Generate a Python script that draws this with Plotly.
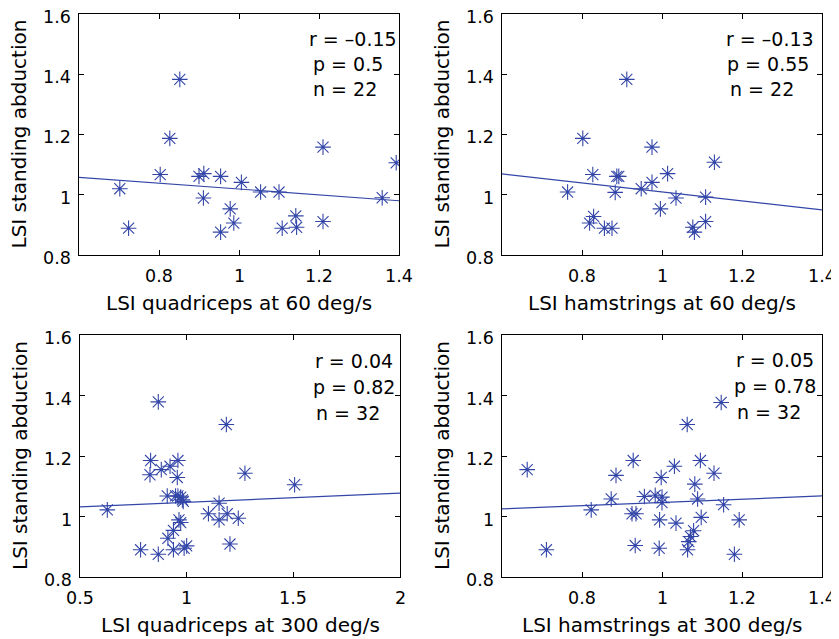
import plotly.graph_objects as go

# ---------------- data ----------------
q60_x = [0.702, 0.724, 0.852, 0.827, 0.803, 0.900, 0.912, 0.954, 0.911, 1.006, 0.954,
         0.978, 0.987, 1.054, 1.100, 1.108, 1.142, 1.144, 1.210, 1.210, 1.358, 1.393]
q60_y = [1.020, 0.889, 1.383, 1.187, 1.067, 1.061, 1.070, 1.061, 0.989, 1.041, 0.876,
         0.953, 0.906, 1.009, 1.009, 0.889, 0.930, 0.892, 1.158, 0.911, 0.990, 1.106]

h60_x = [0.764, 0.802, 0.827, 0.829, 0.819, 0.856, 0.875, 0.883, 0.887, 0.892, 0.912,
         0.948, 0.975, 0.975, 0.996, 1.014, 1.035, 1.077, 1.081, 1.109, 1.109, 1.131]
h60_y = [1.009, 1.187, 1.067, 0.928, 0.906, 0.889, 0.889, 1.008, 1.061, 1.061, 1.383,
         1.020, 1.041, 1.158, 0.953, 1.070, 0.989, 0.892, 0.876, 0.911, 0.992, 1.108]

q300_x = [0.628, 0.784, 0.867, 0.867, 0.831, 0.828, 0.881, 0.922, 0.959, 0.956, 0.909,
          0.948, 0.959, 0.972, 0.980, 0.964, 0.972, 0.938, 0.912, 0.938, 0.988, 1.000,
          1.152, 1.102, 1.152, 1.190, 1.242, 1.203, 1.186, 1.273, 1.506, 0.984]
q300_y = [1.022, 0.890, 0.875, 1.379, 1.185, 1.138, 1.155, 1.166, 1.185, 1.129, 1.068,
          1.068, 1.068, 1.064, 1.055, 0.989, 0.980, 0.954, 0.928, 0.890, 0.895, 0.903,
          1.044, 1.009, 0.989, 1.009, 0.994, 0.909, 1.304, 1.143, 1.105, 1.050]

h300_x = [0.663, 0.711, 0.823, 0.873, 0.885, 0.928, 0.925, 0.935, 0.933, 0.956, 0.983,
          1.000, 1.000, 0.998, 0.994, 0.993, 1.031, 1.035, 1.063, 1.064, 1.067, 1.071,
          1.079, 1.082, 1.089, 1.096, 1.098, 1.130, 1.148, 1.154, 1.193, 1.181]
h300_y = [1.155, 0.890, 1.022, 1.058, 1.136, 1.185, 1.009, 1.009, 0.904, 1.066, 1.070,
          1.064, 1.046, 1.129, 0.989, 0.895, 1.166, 0.978, 1.304, 0.890, 0.917, 0.934,
          0.953, 1.107, 1.058, 1.185, 0.997, 1.143, 1.377, 1.039, 0.989, 0.875]

# regression lines (end points)
q60_fit_x, q60_fit_y = [0.6, 1.4], [1.058, 0.980]
h60_fit_x, h60_fit_y = [0.6, 1.4], [1.069, 0.950]
q300_fit_x, q300_fit_y = [0.5, 2.0], [1.032, 1.077]
h300_fit_x, h300_fit_y = [0.6, 1.4], [1.025, 1.068]

q60_stats = ["r = \u20130.15", "p = 0.5", "n = 22"]
h60_stats = ["r = \u20130.13", "p = 0.55", "n = 22"]
q300_stats = ["r = 0.04", "p = 0.82", "n = 32"]
h300_stats = ["r = 0.05", "p = 0.78", "n = 32"]

y_ticks = [0.8, 1.0, 1.2, 1.4, 1.6]
y_tick_text = ["0.8", "1", "1.2", "1.4", "1.6"]
x_ticks_a = [0.8, 1.0, 1.2, 1.4]
x_tick_text_a = ["0.8", "1", "1.2", "1.4"]
x_ticks_b = [0.5, 1.0, 1.5, 2.0]
x_tick_text_b = ["0.5", "1", "1.5", "2"]

x_labels = ["LSI quadriceps at 60 deg/s", "LSI hamstrings at 60 deg/s",
            "LSI quadriceps at 300 deg/s", "LSI hamstrings at 300 deg/s"]
y_label = "LSI standing abduction"

# ---------------- layout geometry (pixels in the 839x639 window) ----------------
OFF = 8                      # default body margin of the html page
W, H = 839 - OFF, 639 - OFF  # figure size so that it fits in the window
FONT = "DejaVu Sans, Arial, sans-serif"
BLUE = "#3346a8"
TICK_SIZE = 17.5
TITLE_SIZE = 20
STAT_SIZE = 19

panels = [
    dict(x=q60_x, y=q60_y, fx=q60_fit_x, fy=q60_fit_y, stats=q60_stats,
         xr=[0.6, 1.4], xt=x_ticks_a, xtt=x_tick_text_a,
         px=(79, 399), py=(14, 255), sx=[308, 312, 312], sy=[39, 64, 89]),
    dict(x=h60_x, y=h60_y, fx=h60_fit_x, fy=h60_fit_y, stats=h60_stats,
         xr=[0.6, 1.4], xt=x_ticks_a, xtt=x_tick_text_a,
         px=(502, 822), py=(14, 255), sx=[725, 726, 729], sy=[39, 64, 89]),
    dict(x=q300_x, y=q300_y, fx=q300_fit_x, fy=q300_fit_y, stats=q300_stats,
         xr=[0.5, 2.0], xt=x_ticks_b, xtt=x_tick_text_b,
         px=(80, 400), py=(335, 577), sx=[314, 312, 315], sy=[361, 387, 413]),
    dict(x=h300_x, y=h300_y, fx=h300_fit_x, fy=h300_fit_y, stats=h300_stats,
         xr=[0.6, 1.4], xt=x_ticks_a, xtt=x_tick_text_a,
         px=(502, 822), py=(335, 577), sx=[735, 733, 736], sy=[360, 386, 412]),
]


def fx(px):
    return (px - OFF) / W


def fy(py):
    return 1 - (py - OFF) / H


fig = go.Figure()
annotations = []
layout = dict(
    width=W, height=H,
    margin=dict(l=0, r=0, t=0, b=0, autoexpand=False),
    paper_bgcolor="white", plot_bgcolor="white",
    showlegend=False,
    font=dict(family=FONT, color="black", size=17),
)


def note(**kw):
    base = dict(showarrow=False, borderpad=0,
                font=dict(family=FONT, size=TICK_SIZE, color="black"))
    base.update(kw)
    annotations.append(base)


for i, p in enumerate(panels, start=1):
    xa = "x" if i == 1 else f"x{i}"
    ya = "y" if i == 1 else f"y{i}"
    fig.add_trace(go.Scatter(
        x=p["fx"], y=p["fy"], mode="lines", xaxis=xa, yaxis=ya,
        line=dict(color=BLUE, width=1.2), hoverinfo="skip"))
    fig.add_trace(go.Scatter(
        x=p["x"], y=p["y"], mode="markers", xaxis=xa, yaxis=ya,
        marker=dict(symbol="asterisk-open", size=13, color=BLUE,
                    line=dict(color=BLUE, width=1.1))))
    l, r = p["px"]
    t, b = p["py"]
    common = dict(ticks="inside", ticklen=5, tickcolor="black",
                  showline=True, linecolor="black", linewidth=1, mirror="ticks",
                  showgrid=False, zeroline=False, showticklabels=False)
    layout["xaxis" if i == 1 else f"xaxis{i}"] = dict(
        domain=[fx(l), fx(r)], anchor=ya, range=p["xr"],
        tickvals=p["xt"], **common)
    layout["yaxis" if i == 1 else f"yaxis{i}"] = dict(
        domain=[fy(b), fy(t)], anchor=xa, range=[0.8, 1.6],
        tickvals=y_ticks, **common)

    # y tick labels
    for v, txt in zip(y_ticks, y_tick_text):
        note(text=txt, xref=f"{xa} domain", x=0, yref=ya, y=v,
             xanchor="right", yanchor="middle", xshift=-7, yshift=-3)
    # x tick labels
    for v, txt in zip(p["xt"], p["xtt"]):
        note(text=txt, xref=xa, x=v, yref=f"{ya} domain", y=0,
             xanchor="center", yanchor="middle", yshift=-21)
    # axis titles
    note(text=x_labels[i - 1], xref=f"{xa} domain", x=0.5, yref=f"{ya} domain", y=0,
         xanchor="center", yanchor="middle", yshift=-48,
         font=dict(family=FONT, size=TITLE_SIZE, color="black"))
    note(text=y_label, xref=f"{xa} domain", x=0, yref=f"{ya} domain", y=0.5,
         xanchor="center", yanchor="middle", xshift=-60, textangle=-90,
         font=dict(family=FONT, size=TITLE_SIZE, color="black"))
    # statistics
    for txt, sx, sy in zip(p["stats"], p["sx"], p["sy"]):
        note(text=txt, x=fx(sx), y=fy(sy), xref="paper", yref="paper",
             xanchor="left", yanchor="middle",
             font=dict(family=FONT, size=STAT_SIZE, color="black"))

layout["annotations"] = annotations
fig.update_layout(**layout)
fig.write_html("out.html")
